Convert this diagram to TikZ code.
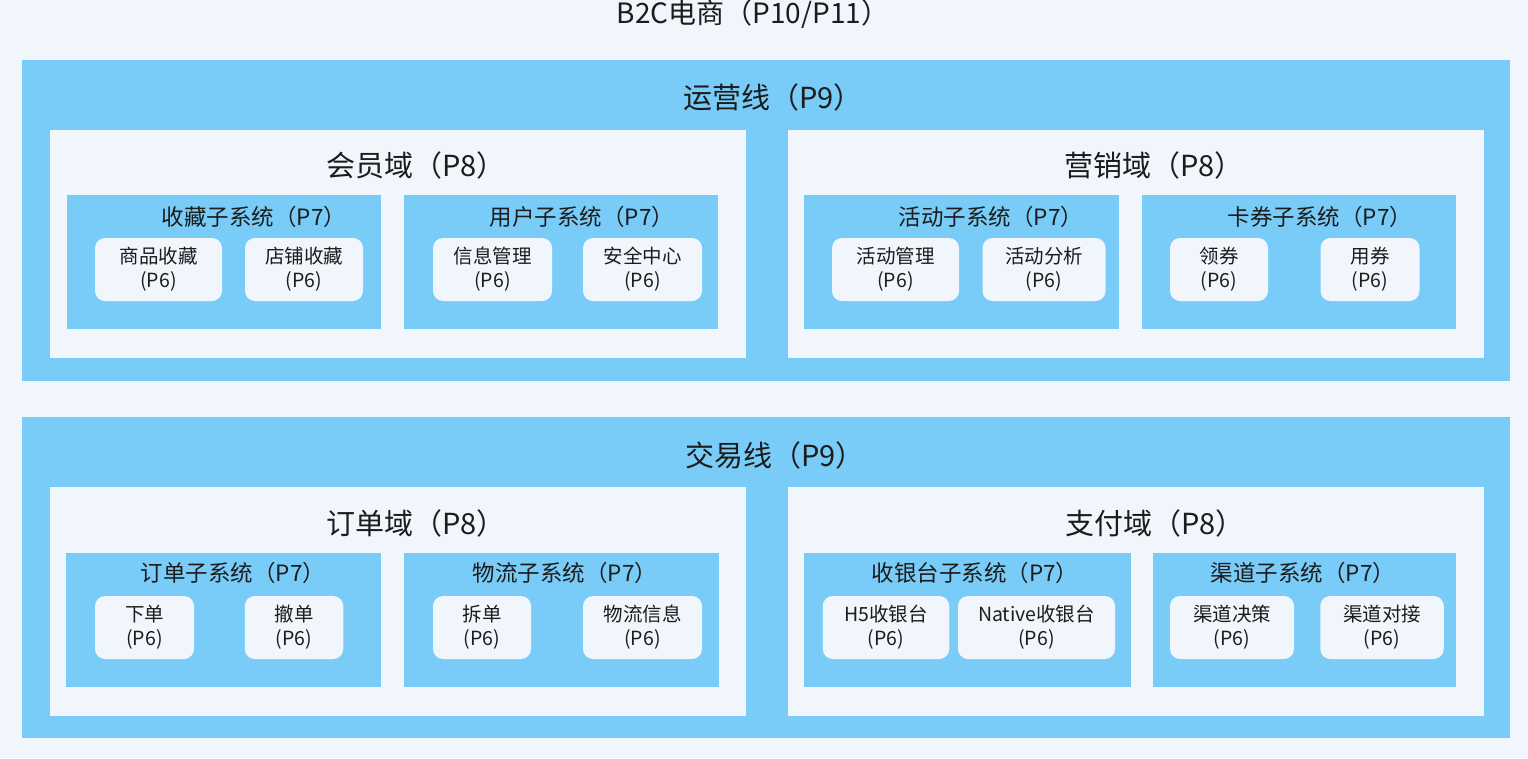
\documentclass[tikz,border=0pt]{standalone}
\usepackage{fontspec}
\setmainfont{Noto Sans CJK SC}
\definecolor{lineblue}{HTML}{79CCF8}
\definecolor{paleblue}{HTML}{F1F6FC}
\definecolor{inkgray}{HTML}{1C1C1C}

\begin{document}
\begin{tikzpicture}[x=1pt, y=-1pt,
  lineband/.style = {fill=lineblue, minimum width=1488pt, minimum height=321pt, inner sep=0pt},
  domainbox/.style = {fill=paleblue, minimum width=696pt, minimum height=228pt, inner sep=0pt},
  subbox/.style = {fill=lineblue, minimum height=134pt, inner sep=0pt},
  leafbox/.style = {fill=paleblue, rounded corners=10pt, minimum height=63pt, inner sep=0pt, align=center, text=inkgray, font=\fontsize{19.5}{24}\selectfont},
  headtext/.style = {text=inkgray, font=\fontsize{29}{32}\selectfont, inner sep=0pt},
  subtext/.style = {text=inkgray, font=\fontsize{22.5}{26}\selectfont, inner sep=0pt}]
	\path[use as bounding box, fill=paleblue] (0,0) rectangle (1528,758);
	\node[headtext, font=\fontsize{28}{32}\selectfont] (b2c) at (753,14) {B2C电商（P10/P11）};
	% operation line
	\node[lineband] (yunying) at (766,220.5) {};
	\node[headtext] (yunyingt) at (773,97) {运营线（P9）};
	\node[domainbox] (huiyuan) at (398,244) {};
	\node[headtext] (huiyuant) at (416,165) {会员域（P8）};
	\node[domainbox] (yingxiao) at (1136,244) {};
	\node[headtext] (yingxiaot) at (1154,165) {营销域（P8）};
	\node[subbox, minimum width=314pt] (shoucang) at (224,262) {};
	\node[subtext] (shoucangt) at (254,217) {收藏子系统（P7）};
	\node[subbox, minimum width=314pt] (yonghu) at (561,262) {};
	\node[subtext] (yonghut) at (582,217) {用户子系统（P7）};
	\node[subbox, minimum width=315pt] (huodong) at (961,262) {};
	\node[subtext] (huodongt) at (991,217) {活动子系统（P7）};
	\node[subbox, minimum width=314pt] (kaquan) at (1299,262) {};
	\node[subtext] (kaquant) at (1320,217) {卡券子系统（P7）};
	\node[leafbox, minimum width=127pt] (spsc) at (158.5,269.5) {商品收藏\\(P6)};
	\node[leafbox, minimum width=118pt] (dpsc) at (304,269.5) {店铺收藏\\(P6)};
	\node[leafbox, minimum width=119pt] (xxgl) at (492.5,269.5) {信息管理\\(P6)};
	\node[leafbox, minimum width=119pt] (aqzx) at (642.5,269.5) {安全中心\\(P6)};
	\node[leafbox, minimum width=127pt] (hdgl) at (895.5,269.5) {活动管理\\(P6)};
	\node[leafbox, minimum width=123pt] (hdfx) at (1044,269.5) {活动分析\\(P6)};
	\node[leafbox, minimum width=98pt] (lingq) at (1219,269.5) {领券\\(P6)};
	\node[leafbox, minimum width=99pt] (yongq) at (1370,269.5) {用券\\(P6)};
	% trade line
	\node[lineband] (jiaoyi) at (766,577.5) {};
	\node[headtext] (jiaoyit) at (775,455) {交易线（P9）};
	\node[domainbox, minimum height=229pt] (dingdan) at (398,601.5) {};
	\node[headtext] (dingdant) at (416,523) {订单域（P8）};
	\node[domainbox, minimum height=229pt] (zhifu) at (1136,601.5) {};
	\node[headtext] (zhifut) at (1155,523) {支付域（P8）};
	\node[subbox, minimum width=315pt] (ddsub) at (223.5,619.5) {};
	\node[subtext] (ddsubt) at (233,573) {订单子系统（P7）};
	\node[subbox, minimum width=314.5pt] (wuliu) at (561.5,619.5) {};
	\node[subtext] (wuliut) at (565,573) {物流子系统（P7）};
	\node[subbox, minimum width=326.5pt] (shouyin) at (967.5,619.5) {};
	\node[subtext] (shouyint) at (975,573) {收银台子系统（P7）};
	\node[subbox, minimum width=303pt] (qudao) at (1304.5,619.5) {};
	\node[subtext] (qudaot) at (1303,573) {渠道子系统（P7）};
	\node[leafbox, minimum width=99pt] (xiad) at (144.5,627.5) {下单\\(P6)};
	\node[leafbox, minimum width=98.5pt] (ched) at (294,627.5) {撤单\\(P6)};
	\node[leafbox, minimum width=98pt] (chaid) at (482,627.5) {拆单\\(P6)};
	\node[leafbox, minimum width=119pt] (wlxx) at (642.5,627.5) {物流信息\\(P6)};
	\node[leafbox, minimum width=126.5pt] (hfive) at (886,627.5) {H5收银台\\(P6)};
	\node[leafbox, minimum width=157pt] (native) at (1036.5,627.5) {Native收银台\\(P6)};
	\node[leafbox, minimum width=124pt] (qdjc) at (1232,627.5) {渠道决策\\(P6)};
	\node[leafbox, minimum width=123.5pt] (qddj) at (1382,627.5) {渠道对接\\(P6)};
\end{tikzpicture}
\end{document}
